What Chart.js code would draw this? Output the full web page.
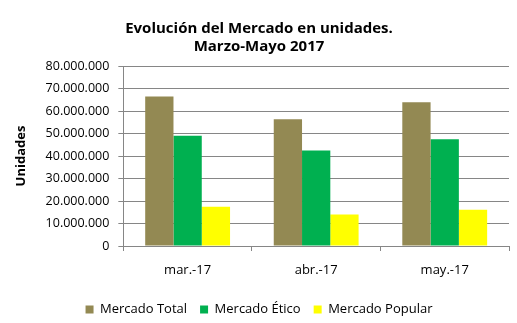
<!DOCTYPE html>
<html>
<head>
<meta charset="utf-8">
<script src="https://cdn.jsdelivr.net/npm/chart.js@4"></script>
<style>
  html, body { margin: 0; padding: 0; background: #fff; }
  #wrap { width: 517px; height: 323px; }
</style>
</head>
<body>
<div id="wrap"><canvas id="myChart" width="517" height="323"></canvas></div>
<script>
  var meses = ['mar.-17', 'abr.-17', 'may.-17'];
  var mercadoTotal = [66500000, 56300000, 63900000];
  var mercadoEtico = [49000000, 42400000, 47500000];
  var mercadoPopular = [17500000, 14000000, 16100000];

  const fuente = "'Open Sans', 'DejaVu Sans', sans-serif";

  function formato(v) {
    return v.toString().replace(/\B(?=(\d{3})+(?!\d))/g, '.');
  }

  const ctx = document.getElementById('myChart');
  var chart = new Chart(ctx, {
    type: 'bar',
    data: {
      labels: meses,
      datasets: [{
        label: 'Mercado Total',
        data: mercadoTotal,
        backgroundColor: '#938953'
      },
      {
        label: 'Mercado Ético',
        data: mercadoEtico,
        backgroundColor: '#00B050'
      },
      {
        label: 'Mercado Popular',
        data: mercadoPopular,
        backgroundColor: '#FFFF00'
      }]
    },
    options: {
      responsive: false,
      animation: false,
      // bottom negativo: la leyenda queda mas abajo, como en el original
      layout: { padding: { left: 9, right: 8, top: 0, bottom: -3 } },
      datasets: {
        bar: { categoryPercentage: 0.66, barPercentage: 1.0 }
      },
      plugins: {
        title: {
          display: true,
          text: ['Evolución del Mercado en unidades.', 'Marzo-Mayo 2017'],
          color: '#000',
          font: { family: fuente, size: 15, weight: 'bold', lineHeight: 1.2 },
          padding: { top: 20, bottom: 10 }
        },
        legend: {
          position: 'bottom',
          labels: {
            color: '#000',
            boxWidth: 8,
            boxHeight: 8,
            padding: 13,
            font: { family: fuente, size: 13 }
          }
        },
        tooltip: { enabled: false }
      },
      scales: {
        x: {
          grid: {
            offset: true,
            drawOnChartArea: false,
            drawTicks: true,
            tickLength: 5,
            color: '#868686'
          },
          border: { color: '#868686' },
          ticks: { color: '#000', padding: 13, font: { family: fuente, size: 13, lineHeight: 1.0 } }
        },
        y: {
          min: 0,
          max: 80000000,
          ticks: {
            stepSize: 10000000,
            color: '#000',
            padding: 9,
            font: { family: fuente, size: 12.5 },
            callback: function(v) { return formato(v); }
          },
          grid: { color: '#868686', tickLength: 5 },
          border: { color: '#868686' },
          title: {
            display: true,
            text: 'Unidades',
            color: '#000',
            font: { family: fuente, size: 13, weight: 'bold' },
            padding: { bottom: 8 }
          }
        }
      }
    }
  });
</script>
</body>
</html>
